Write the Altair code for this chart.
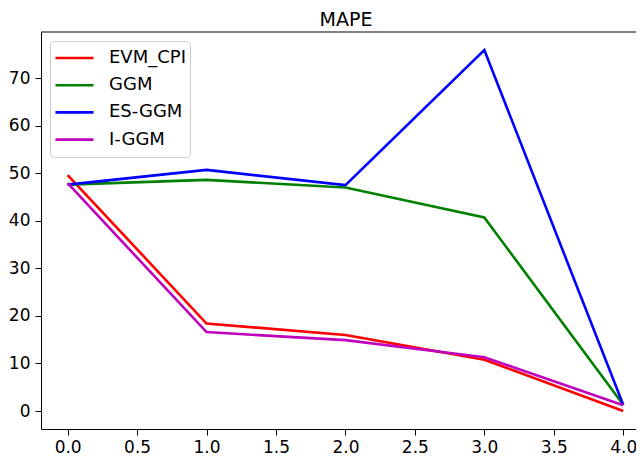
import altair as alt
import pandas as pd

x_vals = [0, 1, 2, 3, 4]
evm_cpi = [49.6, 18.4, 16.0, 10.8, 0.0]
ggm = [47.6, 48.6, 47.0, 40.7, 1.3]
es_ggm = [47.6, 50.7, 47.5, 75.9, 1.3]
i_ggm = [47.9, 16.6, 14.9, 11.3, 1.2]

series_names = ["EVM_CPI", "GGM", "ES-GGM", "I-GGM"]
series_colors = ["#ff0000", "#008000", "#0000ff", "#bf00bf"]
series_values = [evm_cpi, ggm, es_ggm, i_ggm]

chart_title = "MAPE"

x_ticks = [0, 0.5, 1, 1.5, 2, 2.5, 3, 3.5, 4]
y_ticks = [0, 10, 20, 30, 40, 50, 60, 70]

rows = []
for order, (name, vals) in enumerate(zip(series_names, series_values)):
    for xv, yv in zip(x_vals, vals):
        rows.append({"x": xv, "y": yv, "series": name, "order": order})
df = pd.DataFrame(rows)

W = 595
H = 397
FONT = "DejaVu Sans"

lines = alt.Chart(df).mark_line(strokeWidth=2.6, clip=True).encode(
    x=alt.X("x:Q", scale=alt.Scale(domain=[-0.192, 4.092], nice=False, zero=False),
            axis=alt.Axis(values=x_ticks, format=".1f", title=None, grid=False,
                          tickSize=6, tickColor="black", domainColor="black",
                          labelFontSize=17, labelColor="black", labelFont=FONT,
                          labelPadding=4, labelFlush=False)),
    y=alt.Y("y:Q", scale=alt.Scale(domain=[-3.78, 79.7], nice=False, zero=False),
            axis=alt.Axis(values=y_ticks, title=None, grid=False,
                          tickSize=6, tickColor="black", domainColor="black",
                          labelFontSize=17, labelColor="black", labelFont=FONT,
                          labelPadding=5, labelFlush=False)),
    color=alt.Color("series:N",
                    scale=alt.Scale(domain=series_names, range=series_colors),
                    legend=alt.Legend(title=None, orient="none", legendX=9, legendY=9,
                                      symbolType="stroke", symbolStrokeWidth=2.6,
                                      symbolSize=1450, labelFontSize=18, labelFont=FONT,
                                      labelColor="black", strokeColor="#cccccc",
                                      fillColor="white", cornerRadius=4,
                                      clipHeight=26, padding=4, rowPadding=1.2,
                                      labelOffset=14)),
    detail="series:N",
    order="order:Q",
)

top_spine = alt.Chart(pd.DataFrame({"a": [0]})).mark_rule(color="black", strokeWidth=1).encode(
    x=alt.value(0), x2=alt.value(W), y=alt.value(0)
)

title_text = alt.Chart(pd.DataFrame({"t": [chart_title]})).mark_text(
    font=FONT, fontSize=19, color="black", align="center", baseline="alphabetic",
    clip=False
).encode(
    text="t:N", x=alt.value(305), y=alt.value(-6)
)

chart = alt.layer(lines, top_spine, title_text).properties(
    width=W, height=H,
    autosize=alt.AutoSizeParams(type="none"),
    padding={"left": 33, "top": 24, "right": 0, "bottom": 26},
).configure_view(stroke=None)

chart.save("out.html", embed_options={"renderer": "svg", "actions": False})
